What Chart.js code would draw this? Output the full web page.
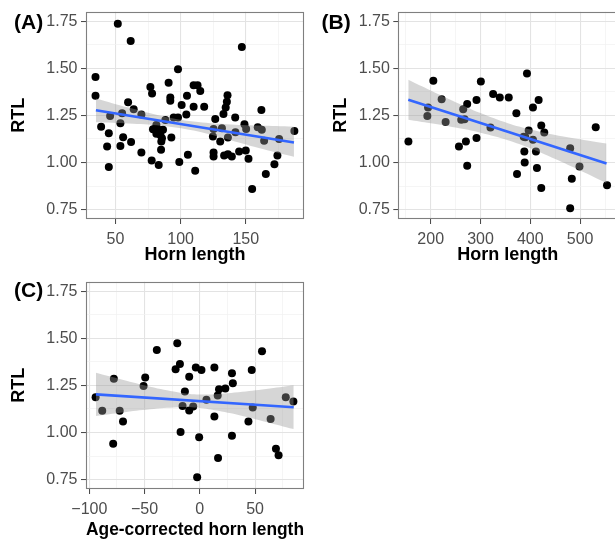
<!DOCTYPE html>
<html><head><meta charset="utf-8">
<script src="https://cdn.jsdelivr.net/npm/chart.js@4"></script>
<style>
html,body{margin:0;padding:0;overflow:hidden;background:#fff;}
#wrap{position:relative;width:615px;height:541px;overflow:hidden;background:#fff;}
canvas{position:absolute;}
.lab{position:absolute;font:bold 21px "Liberation Sans",Arial,Helvetica,sans-serif;line-height:24px;color:#000;white-space:nowrap;}
</style></head><body>
<div id="wrap">
<canvas id="cA" width="310" height="270" style="left:0;top:0;width:310px;height:270px"></canvas>
<canvas id="cB" width="301" height="270" style="left:322px;top:0;width:301px;height:270px"></canvas>
<canvas id="cC" width="310" height="271" style="left:0;top:270px;width:310px;height:271px"></canvas>
<div class="lab" style="left:14px;top:9.5px">(A)</div>
<div class="lab" style="left:321.5px;top:9.5px">(B)</div>
<div class="lab" style="left:14px;top:278px">(C)</div>
</div>
<script>
// ---------- shared y axis ----------
const yMajor = [0.75, 1.00, 1.25, 1.50, 1.75];
const yMinor = [0.875, 1.125, 1.375, 1.625];
const yLabels = ['0.75', '1.00', '1.25', '1.50', '1.75'];
const yTitle = 'RTL';

// ---------- panel A ----------
const aHorn = [51.8,61.7,147,34.7,98,34.7,76.8,78.1,90.8,92.1,
  92.1,110,113,115.1,104.9,100.8,110,118.1,104.4,59.7,
  64,69.9,55.1,45.9,53.8,39,44.9,55.9,43.6,53.8,
  62,44.9,69.9,77.8,83.2,85,99,105.6,111.2,78.8,
  81.4,83.2,84.5,86.5,85.7,92.9,88.3,94.7,98,81.4,
  85.2,126.6,125.3,124.8,130.4,131.7,136.3,132.9,134.6,135.5,
  136,141.9,142.1,149,150.3,150,152.1,125.3,125.3,133.4,
  136.3,139.3,144.9,154.9,162,159.2,162.3,164.1,165.4,172,
  174.3,175.6,187.3];
const aRTL = [1.736,1.644,1.613,1.454,1.495,1.354,1.401,1.366,1.423,1.345,
  1.328,1.410,1.410,1.379,1.354,1.305,1.296,1.296,1.255,1.319,
  1.282,1.255,1.261,1.247,1.208,1.190,1.155,1.134,1.085,1.088,
  1.108,0.976,1.053,1.011,0.986,1.067,1.002,1.041,0.956,1.176,
  1.199,1.173,1.146,1.173,1.129,1.132,1.225,1.239,1.239,1.152,
  1.111,1.231,1.178,1.138,1.111,1.181,1.132,1.257,1.292,1.322,
  1.357,1.238,1.160,1.203,1.178,1.064,1.020,1.053,1.032,1.037,
  1.044,1.032,1.058,0.859,1.278,1.187,1.173,1.115,0.939,0.991,
  1.037,1.125,1.167];
const aFitX = [35, 187];
const aFitY = [1.277, 1.106];
const aBandX = [35, 60, 85, 110, 135, 160, 187];
const aBandUp = [1.340, 1.291, 1.247, 1.217, 1.203, 1.196, 1.190];
const aBandLo = [1.214, 1.207, 1.195, 1.169, 1.125, 1.077, 1.030];
const aXMajor = [50, 100, 150];
const aXMinor = [75, 125, 175];
const aXLabels = ['50', '100', '150'];
const aXTitle = 'Horn length';

// ---------- panel B ----------
const bHorn = [155.3,205.3,194.7,193.3,222,230,265.3,261.3,268,273.3,
  256.7,270.7,273.3,292,292,300.7,320,325.3,338.7,356.7,
  372,373.3,393.3,386.7,390,388,388.7,396.7,405.3,405.3,
  416.7,411.3,413.3,422,428,422,480,483.3,498.7,480,
  531.3,554];
const bRTL = [1.111,1.433,1.292,1.247,1.336,1.215,1.282,1.226,1.229,1.310,
  1.085,1.111,0.983,1.331,1.130,1.430,1.185,1.363,1.345,1.345,
  1.261,0.939,1.472,1.137,1.134,1.058,1.000,1.169,1.120,1.292,
  1.331,1.058,0.970,1.196,1.159,0.865,1.076,0.914,0.979,0.757,
  1.187,0.879];
const bFitX = [155, 553];
const bFitY = [1.333, 0.995];
const bBandX = [155, 200, 250, 300, 355, 400, 450, 500, 553];
const bBandUp = [1.439, 1.382, 1.320, 1.262, 1.208, 1.175, 1.146, 1.123, 1.100];
const bBandLo = [1.227, 1.208, 1.185, 1.158, 1.118, 1.075, 1.018, 0.957, 0.890];
const bXMajor = [200, 300, 400, 500];
const bXMinor = [150, 250, 350, 450, 550];
const bXLabels = ['200', '300', '400', '500'];
const bXTitle = 'Horn length';

// ---------- panel C ----------
const cHorn = [-94.3,-88.3,-77.8,-78.4,-72.5,-69.5,-50.9,-49.4,-38.9,-20.4,
  -21.9,-18,-17.4,-13.5,-15.6,-9.6,-9.6,-6,-3.6,-0.6,
  -2.4,1.5,6,13.2,13.2,16.2,17.4,16.5,23.1,29.1,
  29.9,29.1,44,47,47.9,56.3,64.1,68.9,71.3,77.8,
  84.7];
const cRTL = [1.187,1.115,1.285,0.940,1.115,1.058,1.247,1.292,1.437,1.474,
  1.336,1.363,1.002,1.217,1.141,1.296,1.116,1.138,1.345,0.974,
  0.763,1.331,1.173,1.345,1.085,1.196,1.229,0.865,1.233,1.314,
  1.261,0.983,1.058,1.331,1.132,1.431,1.071,0.914,0.879,1.187,
  1.164];
const cFitX = [-94, 85];
const cFitY = [1.202, 1.134];
const cBandX = [-94, -70, -45, -20, -5, 10, 35, 60, 85];
const cBandUp = [1.317, 1.280, 1.243, 1.214, 1.203, 1.202, 1.213, 1.230, 1.250];
const cBandLo = [1.087, 1.106, 1.123, 1.134, 1.133, 1.122, 1.093, 1.056, 1.018];
const cXMajor = [-100, -50, 0, 50];
const cXMinor = [-75, -25, 25, 75];
const cXLabels = ['\u2212100', '\u221250', '0', '50'];
const cXTitle = 'Age-corrected horn length';

// ---------- drawing ----------
const FONT = '"Liberation Sans", Arial, Helvetica, sans-serif';

const borderPlugin = {
  id: 'panelBorder',
  afterDatasetsDraw(chart) {
    const a = chart.chartArea, ctx = chart.ctx;
    ctx.save();
    ctx.strokeStyle = '#7f7f7f';
    ctx.lineWidth = 1.1;
    ctx.strokeRect(Math.round(a.left) + 0.5, Math.round(a.top) + 0.5,
      Math.round(a.right - a.left) - 1, Math.round(a.bottom - a.top) - 1);
    ctx.restore();
  }
};

function tickList(major, minor) {
  return major.concat(minor).sort((p, q) => p - q)
    .map(v => ({ value: v, major: major.indexOf(v) >= 0 }));
}
function pts(xs, ys) { return xs.map((x, i) => ({ x: x, y: ys[i] })); }
const gridColor = c => (c.tick && c.tick.major) ? '#e3e3e3' : '#f1f1f1';
const gridWidth = c => (c.tick && c.tick.major) ? 1.1 : 0.7;
const tickCol = c => (c.tick && c.tick.major) ? '#444' : 'rgba(0,0,0,0)';

function panel(id, p) {
  new Chart(document.getElementById(id), {
    type: 'scatter',
    data: {
      datasets: [
        { type: 'line', data: pts(p.fitX, p.fitY), borderColor: '#3366FF', borderWidth: 2.6,
          pointRadius: 0, fill: false, order: 0 },
        { type: 'line', data: pts(p.bandX, p.bandUp), borderWidth: 0, borderColor: 'rgba(0,0,0,0)',
          pointRadius: 0, tension: 0.4, fill: '+1', backgroundColor: 'rgba(153,153,153,0.4)', order: 1 },
        { type: 'line', data: pts(p.bandX, p.bandLo), borderWidth: 0, borderColor: 'rgba(0,0,0,0)',
          pointRadius: 0, tension: 0.4, fill: false, order: 2 },
        { type: 'scatter', data: pts(p.xs, p.ys), backgroundColor: '#000', borderWidth: 0,
          pointRadius: 4, order: 3 }
      ]
    },
    options: {
      responsive: false, animation: false, devicePixelRatio: 1,
      layout: { padding: { top: p.padTop, right: p.padRight, left: 0, bottom: 0 } },
      plugins: { legend: { display: false }, tooltip: { enabled: false } },
      scales: {
        x: {
          type: 'linear', min: p.xMin, max: p.xMax,
          afterBuildTicks: s => { s.ticks = tickList(p.xMajor, p.xMinor); },
          afterFit: s => { s.height = p.xAxisH; s.paddingLeft = 0; s.paddingRight = 0; s.paddingTop = 0; s.paddingBottom = 0; },
          ticks: { autoSkip: false, maxRotation: 0, padding: 5.5, color: '#4d4d4d',
            font: { family: FONT, size: 16 },
            callback: v => { const i = p.xMajor.indexOf(v); return i < 0 ? '' : p.xLabels[i]; } },
          grid: { color: gridColor, lineWidth: gridWidth, tickColor: tickCol, tickLength: 5, tickWidth: 1 },
          border: { display: false },
          title: { display: true, text: p.xTitle, color: '#000',
            font: { family: FONT, size: 18, weight: 'bold' }, padding: { top: 0, bottom: p.xTitlePad } }
        },
        y: {
          type: 'linear', min: 0.70, max: 1.80,
          afterBuildTicks: s => { s.ticks = tickList(yMajor, yMinor); },
          afterFit: s => { s.width = p.yAxisW; s.paddingLeft = 0; s.paddingRight = 0; s.paddingTop = 0; s.paddingBottom = 0; },
          ticks: { autoSkip: false, padding: 3.5, color: '#4d4d4d',
            font: { family: FONT, size: 16 },
            callback: v => { const i = yMajor.indexOf(v); return i < 0 ? '' : yLabels[i]; } },
          grid: { color: gridColor, lineWidth: gridWidth, tickColor: tickCol, tickLength: 5, tickWidth: 1 },
          border: { display: false },
          title: { display: true, text: yTitle, color: '#000',
            font: { family: FONT, size: 18, weight: 'bold' }, padding: { top: 8.5, bottom: 0 } }
        }
      }
    },
    plugins: [borderPlugin]
  });
}

panel('cA', { xs: aHorn, ys: aRTL, fitX: aFitX, fitY: aFitY, bandX: aBandX, bandUp: aBandUp, bandLo: aBandLo,
  xMajor: aXMajor, xMinor: aXMinor, xLabels: aXLabels, xTitle: aXTitle,
  xMin: 27.4, xMax: 194.7, padTop: 11.7, padRight: 6, xAxisH: 51, yAxisW: 86, xTitlePad: 4.5 });
panel('cB', { xs: bHorn, ys: bRTL, fitX: bFitX, fitY: bFitY, bandX: bBandX, bandUp: bBandUp, bandLo: bBandLo,
  xMajor: bXMajor, xMinor: bXMinor, xLabels: bXLabels, xTitle: bXTitle,
  xMin: 135, xMax: 574, padTop: 11.7, padRight: 6, xAxisH: 51, yAxisW: 76.3, xTitlePad: 4.5 });
panel('cC', { xs: cHorn, ys: cRTL, fitX: cFitX, fitY: cFitY, bandX: cBandX, bandUp: cBandUp, bandLo: cBandLo,
  xMajor: cXMajor, xMinor: cXMinor, xLabels: cXLabels, xTitle: cXTitle,
  xMin: -103, xMax: 94.3, padTop: 11.7, padRight: 6, xAxisH: 52, yAxisW: 86, xTitlePad: 0 });
</script>
</body></html>
